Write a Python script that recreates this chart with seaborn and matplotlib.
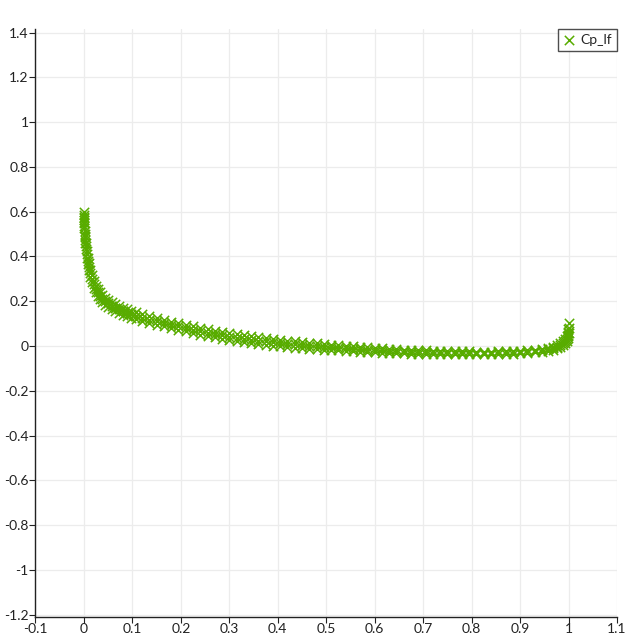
import matplotlib
matplotlib.use("Agg")
import matplotlib.pyplot as plt
import pandas as pd
import seaborn as sns

# Chordwise stations (x/c), shared by all sections
x_c = [
    0.000, 0.0005, 0.001, 0.002, 0.003, 0.004, 0.006, 0.008, 0.010, 0.013,
    0.016, 0.020, 0.024, 0.028, 0.033, 0.038, 0.044, 0.050, 0.057, 0.064,
    0.072, 0.080, 0.089, 0.098, 0.108,
    0.120, 0.135, 0.150, 0.165, 0.180, 0.195, 0.210, 0.225, 0.240, 0.255,
    0.270, 0.285, 0.300, 0.315, 0.330, 0.345, 0.360, 0.375, 0.390, 0.405,
    0.420, 0.435, 0.450, 0.465, 0.480, 0.495, 0.510, 0.525, 0.540, 0.555,
    0.570, 0.585, 0.600, 0.615, 0.630, 0.645, 0.660, 0.675, 0.690, 0.705,
    0.720, 0.735, 0.750, 0.765, 0.780, 0.795, 0.810, 0.825, 0.840, 0.855,
    0.870, 0.885, 0.900, 0.915, 0.930,
    0.945, 0.958, 0.968, 0.976, 0.983, 0.989, 0.993, 0.996, 0.998, 0.999, 1.000,
]

# Pressure coefficient, upper edge of the band
cp_upper = [
    0.600, 0.575, 0.552, 0.515, 0.485, 0.460, 0.425, 0.395, 0.370, 0.340,
    0.315, 0.290, 0.270, 0.255, 0.240, 0.227, 0.215, 0.205, 0.195, 0.186,
    0.178, 0.171, 0.164, 0.157, 0.150,
    0.142, 0.133, 0.125, 0.117, 0.109, 0.102, 0.095, 0.088, 0.081, 0.075,
    0.069, 0.063, 0.057, 0.052, 0.047, 0.043, 0.039, 0.035, 0.031, 0.027,
    0.024, 0.021, 0.018, 0.015, 0.012, 0.009, 0.006, 0.003, 0.001, -0.002,
    -0.004, -0.006, -0.008, -0.010, -0.012, -0.014, -0.016, -0.017, -0.019, -0.020,
    -0.021, -0.022, -0.023, -0.023, -0.024, -0.024, -0.025, -0.025, -0.025, -0.024,
    -0.024, -0.023, -0.022, -0.020, -0.018,
    -0.014, -0.009, -0.003, 0.004, 0.012, 0.022, 0.032, 0.045, 0.060, 0.078, 0.103,
]

# Pressure coefficient, middle of the band
cp_mid = [
    0.585, 0.562, 0.538, 0.502, 0.472, 0.447, 0.410, 0.380, 0.355, 0.325,
    0.300, 0.275, 0.255, 0.240, 0.225, 0.212, 0.200, 0.190, 0.180, 0.171,
    0.163, 0.155, 0.148, 0.141, 0.134,
    0.126, 0.118, 0.110, 0.102, 0.094, 0.087, 0.080, 0.073, 0.066, 0.060,
    0.054, 0.048, 0.042, 0.037, 0.032, 0.028, 0.024, 0.020, 0.016, 0.013,
    0.010, 0.007, 0.004, 0.001, -0.001, -0.003, -0.006, -0.008, -0.010, -0.013,
    -0.015, -0.016, -0.018, -0.020, -0.021, -0.023, -0.024, -0.025, -0.027, -0.027,
    -0.028, -0.029, -0.030, -0.030, -0.030, -0.030, -0.031, -0.030, -0.030, -0.029,
    -0.029, -0.028, -0.027, -0.025, -0.023,
    -0.020, -0.015, -0.010, -0.003, 0.004, 0.013, 0.022, 0.033, 0.047, 0.061, 0.080,
]

# Pressure coefficient, lower edge of the band
cp_lower = [
    0.570, 0.550, 0.525, 0.490, 0.460, 0.435, 0.395, 0.365, 0.340, 0.310,
    0.285, 0.260, 0.240, 0.225, 0.210, 0.197, 0.185, 0.175, 0.165, 0.156,
    0.148, 0.140, 0.133, 0.126, 0.119,
    0.111, 0.103, 0.095, 0.087, 0.079, 0.072, 0.065, 0.058, 0.051, 0.045,
    0.039, 0.033, 0.028, 0.023, 0.018, 0.014, 0.010, 0.006, 0.002, -0.001,
    -0.004, -0.007, -0.010, -0.012, -0.014, -0.016, -0.018, -0.020, -0.022, -0.024,
    -0.026, -0.027, -0.029, -0.030, -0.031, -0.032, -0.033, -0.034, -0.035, -0.035,
    -0.036, -0.036, -0.037, -0.037, -0.037, -0.037, -0.037, -0.036, -0.036, -0.035,
    -0.035, -0.034, -0.033, -0.031, -0.029,
    -0.026, -0.022, -0.017, -0.011, -0.004, 0.004, 0.012, 0.022, 0.034, 0.045, 0.058,
]

x_ticks = [-0.1, 0, 0.1, 0.2, 0.3, 0.4, 0.5, 0.6, 0.7, 0.8, 0.9, 1, 1.1]
x_tick_labels = ["-0.1", "0", "0.1", "0.2", "0.3", "0.4", "0.5", "0.6",
                 "0.7", "0.8", "0.9", "1", "1.1"]
y_ticks = [-1.2, -1, -0.8, -0.6, -0.4, -0.2, 0, 0.2, 0.4, 0.6, 0.8, 1, 1.2, 1.4]
y_tick_labels = ["-1.2", "-1", "-0.8", "-0.6", "-0.4", "-0.2", "0", "0.2",
                 "0.4", "0.6", "0.8", "1", "1.2", "1.4"]

df = pd.DataFrame({
    "x": x_c + x_c + x_c,
    "Cp_lf": cp_upper + cp_mid + cp_lower,
})

sns.set_style("white")
plt.rcParams["font.family"] = ["Lato", "DejaVu Sans"]

green = "#58ac00"
fig = plt.figure(figsize=(6.27, 6.35), dpi=100)
ax = fig.add_axes([0.0566, 0.0283, 0.9274, 0.926])

sns.scatterplot(data=df, x="x", y="Cp_lf", marker="x", s=45, color=green,
                linewidth=1.1, label="Cp_lf", ax=ax, zorder=3)

ax.set_xlim(-0.1, 1.1)
ax.set_ylim(-1.211, 1.416)
ax.set_xticks(x_ticks)
ax.set_xticklabels(x_tick_labels)
ax.set_yticks(y_ticks)
ax.set_yticklabels(y_tick_labels)
ax.set_xlabel("")
ax.set_ylabel("")

ax.grid(True, color="#ececec", linewidth=0.9)
ax.set_axisbelow(True)
for side in ("top", "right"):
    ax.spines[side].set_visible(False)
for side in ("left", "bottom"):
    ax.spines[side].set_color("#222222")
    ax.spines[side].set_linewidth(1.0)

ax.tick_params(axis="both", which="major", direction="out", length=4,
               width=0.8, color="#222222", labelsize=10, labelcolor="#222222",
               pad=1)
ax.tick_params(axis="x", bottom=True, pad=0)
ax.tick_params(axis="y", left=True)

leg = ax.legend(loc="upper right", bbox_to_anchor=(1.0, 1.0), borderaxespad=0.0,
                frameon=True, fancybox=False, fontsize=10, handletextpad=0.3,
                handlelength=1.0, borderpad=0.35, markerscale=1.0)
leg.get_frame().set_edgecolor("#222222")
leg.get_frame().set_linewidth(1.0)

fig.savefig("out.png", dpi=100)
